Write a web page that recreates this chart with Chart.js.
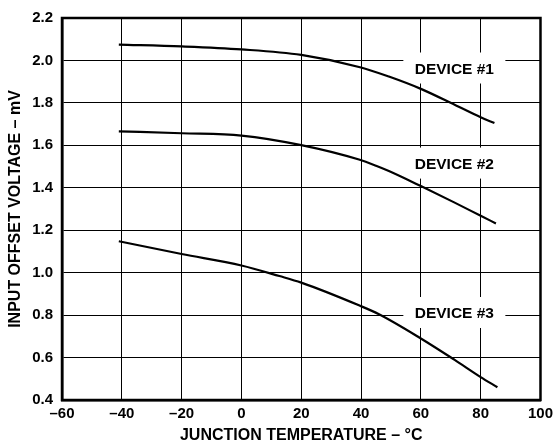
<!DOCTYPE html>
<html>
<head>
<meta charset="utf-8">
<script src="https://cdn.jsdelivr.net/npm/chart.js@4"></script>
<style>
  html, body { margin: 0; padding: 0; background: #fff; }
</style>
</head>
<body>
<canvas id="chart" width="558" height="446"></canvas>
<script>
// ====== Datos ======
const temps1 = [-41, -20, 0, 20, 40, 49.3, 60, 71.3, 80, 84.6];
const device1 = [2.075, 2.066, 2.052, 2.026, 1.967, 1.924, 1.866, 1.791, 1.732, 1.705];

const temps2 = [-41, -20, 0, 20, 39.3, 45, 49.3, 60, 71.3, 80, 85.1];
const device2 = [1.666, 1.657, 1.646, 1.601, 1.533, 1.504, 1.479, 1.408, 1.330, 1.268, 1.232];

const temps3 = [-41, -20, 0, 12.7, 20, 39.3, 46, 60, 71.3, 80, 85.6];
const device3 = [1.148, 1.088, 1.034, 0.984, 0.953, 0.846, 0.804, 0.690, 0.589, 0.508, 0.460];

const labelNames = ['DEVICE #1', 'DEVICE #2', 'DEVICE #3'];
const labelTemps = [71.2, 71.2, 71.2];
const labelVolts = [1.962, 1.514, 0.810];

const FONT = '"Liberation Sans", Arial, Helvetica, sans-serif';

const toPoints = (xs, ys) => xs.map((x, i) => ({ x: x, y: ys[i] }));

// ====== Marco y etiquetas ======
const framePlugin = {
  id: 'frame',
  afterDraw(chart) {
    const { ctx, chartArea: a } = chart;
    ctx.save();
    ctx.strokeStyle = '#000';
    ctx.lineWidth = 2.5;
    ctx.strokeRect(a.left, a.top, a.right - a.left, a.bottom - a.top);
    ctx.restore();
  }
};

// las cajas blancas tapan la rejilla, pero no las curvas
const deviceLabels = {
  id: 'deviceLabels',
  beforeDatasetsDraw(chart) {
    const { ctx, scales } = chart;
    ctx.save();
    ctx.font = 'bold 15.5px ' + FONT;
    ctx.textAlign = 'center';
    ctx.textBaseline = 'middle';
    labelNames.forEach((name, i) => {
      const px = scales.x.getPixelForValue(labelTemps[i]);
      const py = scales.y.getPixelForValue(labelVolts[i]);
      ctx.fillStyle = '#fff';
      ctx.fillRect(px - 51, py - 16, 102, 31);
      ctx.fillStyle = '#000';
      ctx.fillText(name, px, py + 1);
    });
    ctx.restore();
  }
};

const lineStyle = {
  borderColor: '#000',
  borderWidth: 2.2,
  pointRadius: 0,
  fill: false,
  cubicInterpolationMode: 'monotone'
};

new Chart(document.getElementById('chart'), {
  type: 'line',
  data: {
    datasets: [
      Object.assign({ label: 'DEVICE #1', data: toPoints(temps1, device1) }, lineStyle),
      Object.assign({ label: 'DEVICE #2', data: toPoints(temps2, device2) }, lineStyle),
      Object.assign({ label: 'DEVICE #3', data: toPoints(temps3, device3) }, lineStyle)
    ]
  },
  options: {
    responsive: false,
    animation: false,
    layout: { padding: { top: 16, right: 16, left: 0, bottom: 0 } },
    plugins: {
      legend: { display: false },
      tooltip: { enabled: false }
    },
    scales: {
      x: {
        type: 'linear',
        min: -60,
        max: 100,
        afterFit: (s) => { s.height = 46; },
        ticks: {
          stepSize: 20,
          color: '#000',
          padding: 5,
          font: { family: FONT, size: 15, weight: 'bold' },
          callback: (v) => (v < 0 ? '\u2013' + Math.abs(v) : String(v))
        },
        grid: { color: '#000', lineWidth: 1, drawTicks: false },
        border: { display: true, color: '#000', width: 2.5 },
        title: {
          display: true,
          text: 'JUNCTION TEMPERATURE \u2013 \u00B0C',
          color: '#000',
          font: { family: FONT, size: 16, weight: 'bold' },
          padding: { top: 0, bottom: 1 }
        }
      },
      y: {
        min: 0.4,
        max: 2.2,
        afterFit: (s) => { s.width = 62; },
        ticks: {
          stepSize: 0.2,
          color: '#000',
          padding: 9,
          font: { family: FONT, size: 15, weight: 'bold' },
          callback: (v) => Number(v).toFixed(1)
        },
        grid: { color: '#000', lineWidth: 1, drawTicks: false },
        border: { display: true, color: '#000', width: 2.5 },
        title: {
          display: true,
          text: 'INPUT OFFSET VOLTAGE \u2013 mV',
          color: '#000',
          font: { family: FONT, size: 16, weight: 'bold' },
          padding: { top: 6, bottom: 0 }
        }
      }
    }
  },
  plugins: [deviceLabels, framePlugin]
});
</script>
</body>
</html>
